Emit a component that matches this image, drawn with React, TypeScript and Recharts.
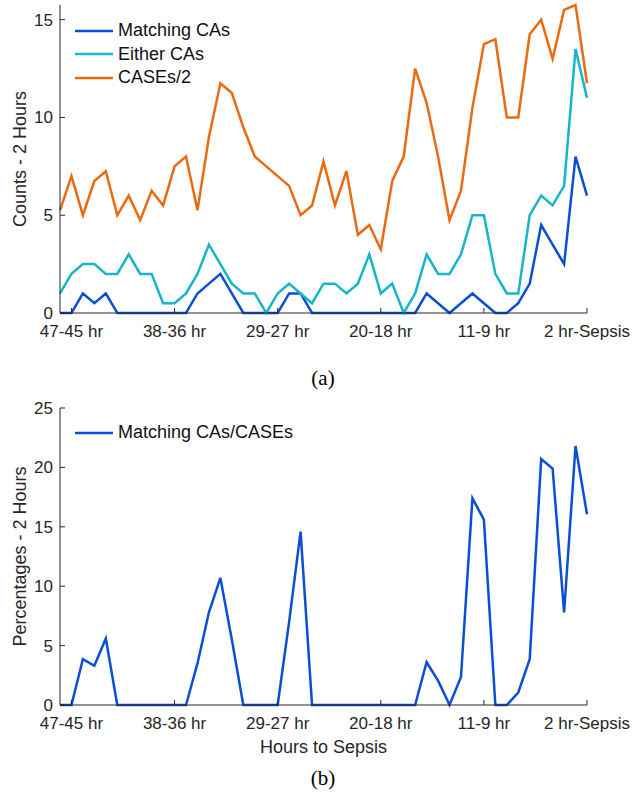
import React from "react";
import { Legend, Line, LineChart, XAxis, YAxis } from "recharts";

// x positions: 47 two-hour windows, index 0..46
const tickIndex = [1, 10, 19, 28, 37, 46];
const tickLabels = ["47-45 hr", "38-36 hr", "29-27 hr", "20-18 hr", "11-9 hr", "2 hr-Sepsis"];

// legend order as in the figure
const seriesNames = ["Matching CAs", "Either CAs", "CASEs/2", "Matching CAs/CASEs"];

// panel (a)
const matchingCAs = [
  0, 0, 1, 0.5, 1, 0, 0, 0, 0, 0, 0, 0, 1, 1.5, 2, 1, 0, 0, 0, 0, 1, 1, 0, 0,
  0, 0, 0, 0, 0, 0, 0, 0, 1, 0.5, 0, 0.5, 1, 0.5, 0, 0, 0.5, 1.5, 4.5, 3.5, 2.5, 8, 6,
];
const eitherCAs = [
  1, 2, 2.5, 2.5, 2, 2, 3, 2, 2, 0.5, 0.5, 1, 2, 3.5, 2.5, 1.5, 1, 1, 0, 1, 1.5, 1, 0.5, 1.5,
  1.5, 1, 1.5, 3, 1, 1.5, 0, 1, 3, 2, 2, 3, 5, 5, 2, 1, 1, 5, 6, 5.5, 6.5, 13.5, 11,
];
const casesHalf = [
  5.25, 7, 5, 6.75, 7.25, 5, 6, 4.75, 6.25, 5.5, 7.5, 8, 5.25, 9, 11.75, 11.25, 9.5, 8, 7.5, 7,
  6.5, 5, 5.5, 7.75, 5.5, 7.25, 4, 4.5, 3.25, 6.75, 8, 12.5, 10.75, 8, 4.75, 6.25, 10.5, 13.75,
  14, 10, 10, 14.25, 15, 13, 15.5, 15.75, 11.75,
];

// panel (b)
const matchingPct = [
  0, 0, 3.85, 3.3, 5.6, 0, 0, 0, 0, 0, 0, 0, 3.5, 7.8, 10.7, 5.5, 0, 0, 0, 0, 7, 14.6, 0, 0,
  0, 0, 0, 0, 0, 0, 0, 0, 3.6, 2.05, 0, 2.35, 17.4, 15.6, 0, 0, 1.05, 3.85, 20.7, 19.9, 7.8, 21.8, 16.05,
];

const data = matchingCAs.map((v, i) => ({
  idx: i,
  matching: v,
  either: eitherCAs[i],
  cases: casesHalf[i],
  pct: matchingPct[i],
}));

const FONT = "'Liberation Sans', Arial, Helvetica, sans-serif";
const AXIS = "#262626";
const BLUE = "#0b4fd4";
const CYAN = "#17b5cb";
const ORANGE = "#ea6a10";
const LW = 2.5;

const tickStyle = { fill: AXIS, fontSize: 17, fontFamily: FONT };

const YLabel = (props: any) => {
  const { viewBox, value } = props;
  const cx = viewBox.x + 20;
  const cy = viewBox.y + viewBox.height / 2;
  return (
    <text
      x={cx}
      y={cy}
      transform={`rotate(-90 ${cx} ${cy})`}
      textAnchor="middle"
      dominantBaseline="central"
      fill={AXIS}
      fontSize={18}
      fontFamily={FONT}
    >
      {value}
    </text>
  );
};

const XLabel = (props: any) => {
  const { viewBox, value } = props;
  return (
    <text
      x={viewBox.x + viewBox.width / 2}
      y={viewBox.y + 41.5}
      textAnchor="middle"
      dominantBaseline="central"
      fill={AXIS}
      fontSize={18}
      fontFamily={FONT}
    >
      {value}
    </text>
  );
};

const renderLegend = (props: any) => {
  const items = [...props.payload].sort(
    (a: any, b: any) => seriesNames.indexOf(a.value) - seriesNames.indexOf(b.value)
  );
  return (
    <div style={{ fontFamily: FONT, fontSize: 18, color: "#111" }}>
      {items.map((entry: any) => (
        <div key={entry.value} style={{ display: "flex", alignItems: "center", height: 23.5 }}>
          <svg width={38} height={4}>
            <line x1={0} x2={38} y1={2} y2={2} stroke={entry.color} strokeWidth={LW} />
          </svg>
          <span style={{ marginLeft: 5, whiteSpace: "nowrap" }}>{entry.value}</span>
        </div>
      ))}
    </div>
  );
};

const xAxisProps = {
  dataKey: "idx",
  type: "number" as const,
  domain: [0, 46],
  ticks: tickIndex,
  interval: 0 as const,
  tickFormatter: (v: number) => tickLabels[tickIndex.indexOf(v)],
  tickSize: -5,
  tickMargin: 17,
  tick: tickStyle,
  stroke: AXIS,
};

const caption = (top: number, text: string) => (
  <div
    style={{
      position: "absolute",
      top,
      left: 0,
      width: 646,
      textAlign: "center",
      fontFamily: "'Liberation Serif', 'Times New Roman', serif",
      fontSize: 21,
      color: "#000",
      lineHeight: "24px",
    }}
  >
    {text}
  </div>
);

export default function App() {
  return (
    <div style={{ position: "absolute", left: 0, top: 0, width: 641, height: 794, background: "#fff" }}>
      <div style={{ position: "absolute", left: 0, top: 0 }}>
        <LineChart width={641} height={360} data={data} margin={{ top: 5, right: 54, bottom: 17, left: 0 }}>
          <XAxis {...xAxisProps} height={30} />
          <YAxis
            domain={[0, 15.75]}
            ticks={[0, 5, 10, 15]}
            interval={0}
            width={60}
            tickSize={-5}
            tickMargin={12}
            tick={tickStyle}
            stroke={AXIS}
            label={<YLabel value="Counts - 2 Hours" />}
          />
          <Legend
            layout="vertical"
            align="center"
            verticalAlign="middle"
            wrapperStyle={{ left: 75, top: 18.75, width: 200 }}
            content={renderLegend}
          />
          <Line type="linear" dataKey="matching" name={seriesNames[0]} stroke={BLUE} strokeWidth={LW} dot={false} isAnimationActive={false} />
          <Line type="linear" dataKey="either" name={seriesNames[1]} stroke={CYAN} strokeWidth={LW} dot={false} isAnimationActive={false} />
          <Line type="linear" dataKey="cases" name={seriesNames[2]} stroke={ORANGE} strokeWidth={LW} dot={false} isAnimationActive={false} />
        </LineChart>
      </div>
      {caption(366, "(a)")}
      <div style={{ position: "absolute", left: 0, top: 380 }}>
        <LineChart width={641} height={414} data={data} margin={{ top: 28, right: 54, bottom: 29, left: 0 }}>
          <XAxis {...xAxisProps} height={60} label={<XLabel value="Hours to Sepsis" />} />
          <YAxis
            domain={[0, 25]}
            ticks={[0, 5, 10, 15, 20, 25]}
            interval={0}
            width={60}
            tickSize={-5}
            tickMargin={12}
            tick={tickStyle}
            stroke={AXIS}
            label={<YLabel value="Percentages - 2 Hours" />}
          />
          <Legend
            layout="vertical"
            align="center"
            verticalAlign="middle"
            wrapperStyle={{ left: 75, top: 41, width: 250 }}
            content={renderLegend}
          />
          <Line type="linear" dataKey="pct" name={seriesNames[3]} stroke={BLUE} strokeWidth={LW} dot={false} isAnimationActive={false} />
        </LineChart>
      </div>
      {caption(766, "(b)")}
    </div>
  );
}
